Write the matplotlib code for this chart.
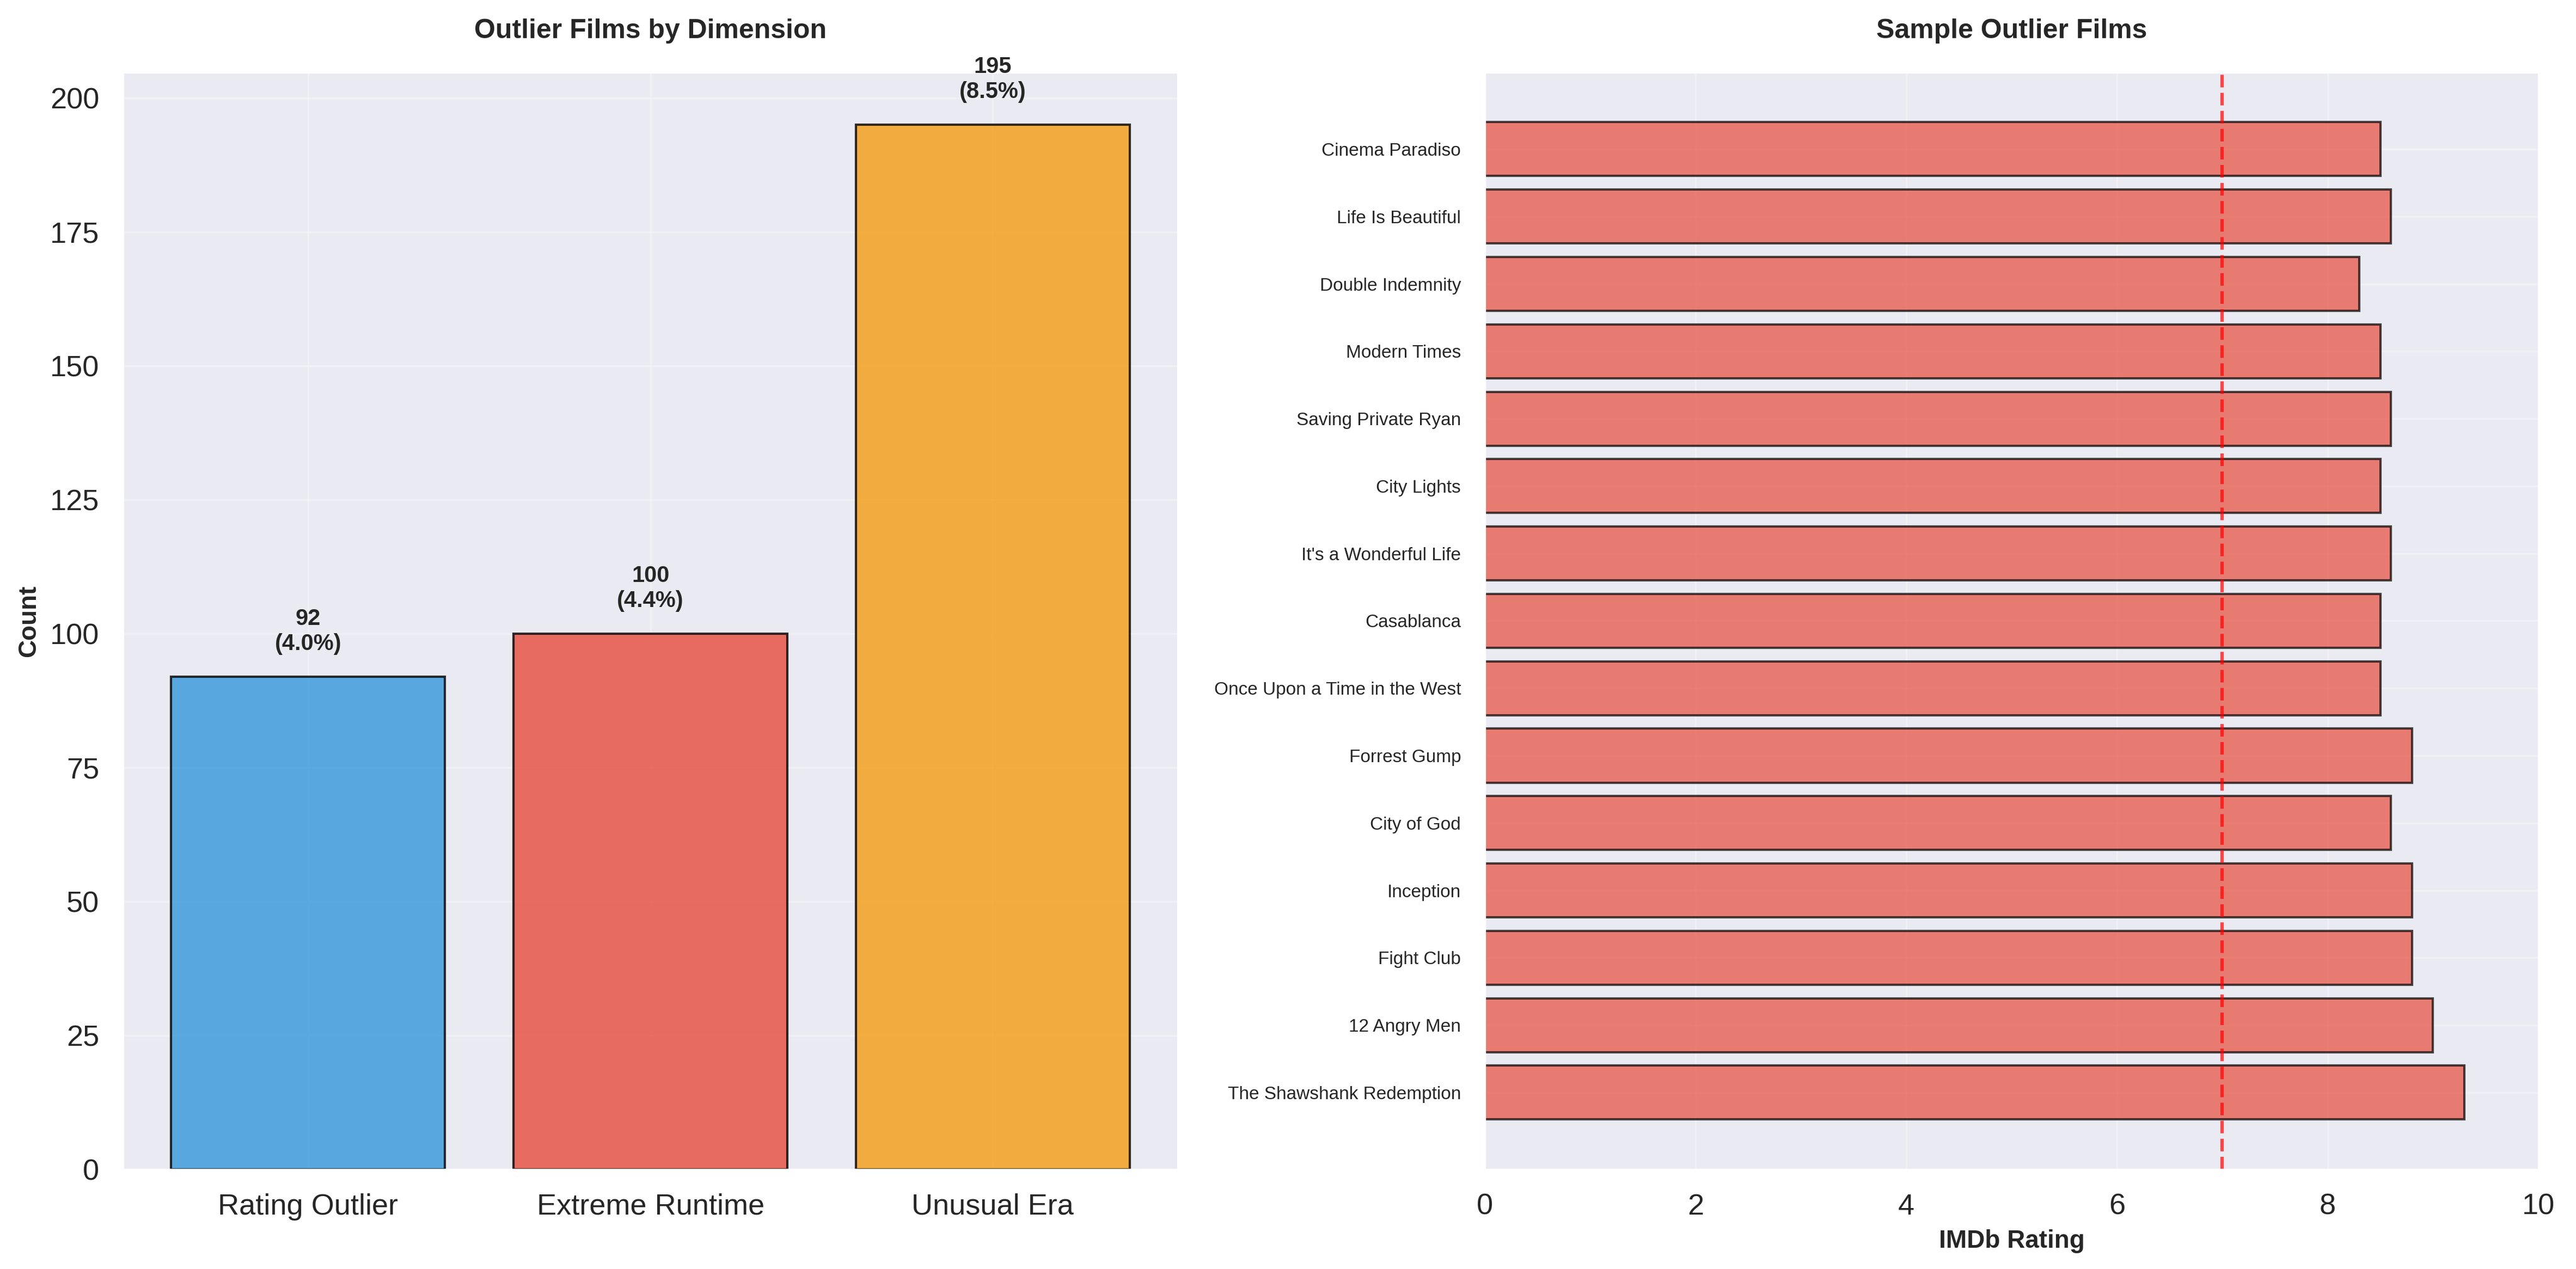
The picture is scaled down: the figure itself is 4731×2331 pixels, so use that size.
import numpy as np
import matplotlib
matplotlib.use('Agg')
import matplotlib.pyplot as plt
import seaborn as sns

sns.set_style('darkgrid')
plt.rcParams['font.family'] = ['Liberation Sans', 'DejaVu Sans']

# Outlier counts by dimension
categories = ['Rating Outlier', 'Extreme Runtime', 'Unusual Era']
counts = [92, 100, 195]
percents = [4.0, 4.4, 8.5]
cat_colors = ['#3498db', '#e74c3c', '#f39c12']

# Sample outlier films (bottom to top)
films = ['The Shawshank Redemption', '12 Angry Men', 'Fight Club', 'Inception',
         'City of God', 'Forrest Gump', 'Once Upon a Time in the West', 'Casablanca',
         "It's a Wonderful Life", 'City Lights', 'Saving Private Ryan', 'Modern Times',
         'Double Indemnity', 'Life Is Beautiful', 'Cinema Paradiso']
ratings = [9.3, 9.0, 8.8, 8.8, 8.6, 8.8, 8.5, 8.5, 8.6, 8.5, 8.6, 8.5, 8.3, 8.6, 8.5]
threshold = 7.0

fig = plt.figure(figsize=(4731/300, 2331/300), dpi=300)
ax1 = fig.add_axes([0.0478, 0.0785, 0.4094, 0.8645])
ax2 = fig.add_axes([0.5764, 0.0785, 0.4090, 0.8645])

# Left: counts per dimension
x_pos = np.arange(len(categories))
bars = ax1.bar(x_pos, counts, color=cat_colors, alpha=0.8, edgecolor='black', linewidth=1)
for i_bar in range(0, len(bars)):
    b = bars[i_bar]
    ax1.text(b.get_x() + b.get_width()/2, b.get_height() + 4,
             str(counts[i_bar]) + '\n(' + str(percents[i_bar]) + '%)',
             ha='center', va='bottom', fontsize=10, fontweight='bold')
ax1.set_xticks(x_pos)
ax1.set_xticklabels(categories, fontsize=13)
ax1.tick_params(axis='y', labelsize=13)
ax1.tick_params(axis='both', pad=7)
ax1.set_ylabel('Count', fontsize=11, fontweight='bold')
ax1.set_title('Outlier Films by Dimension', fontsize=12, fontweight='bold', pad=15)
ax1.grid(True, alpha=0.3)

# Right: sample films
y_pos = np.arange(len(films))
ax2.barh(y_pos, ratings, color='#e74c3c', alpha=0.7, edgecolor='black', linewidth=1)
ax2.axvline(threshold, color='red', linestyle='--', alpha=0.7, linewidth=1.5)
ax2.set_yticks(y_pos)
ax2.set_yticklabels(films, fontsize=8)
ax2.tick_params(axis='x', labelsize=13)
ax2.tick_params(axis='both', pad=7)
ax2.set_xlim(0, 10)
ax2.set_xlabel('IMDb Rating', fontsize=11, fontweight='bold')
ax2.set_title('Sample Outlier Films', fontsize=12, fontweight='bold', pad=15)
ax2.grid(True, alpha=0.3)

plt.savefig('out.png', dpi=300)
plt.close()
